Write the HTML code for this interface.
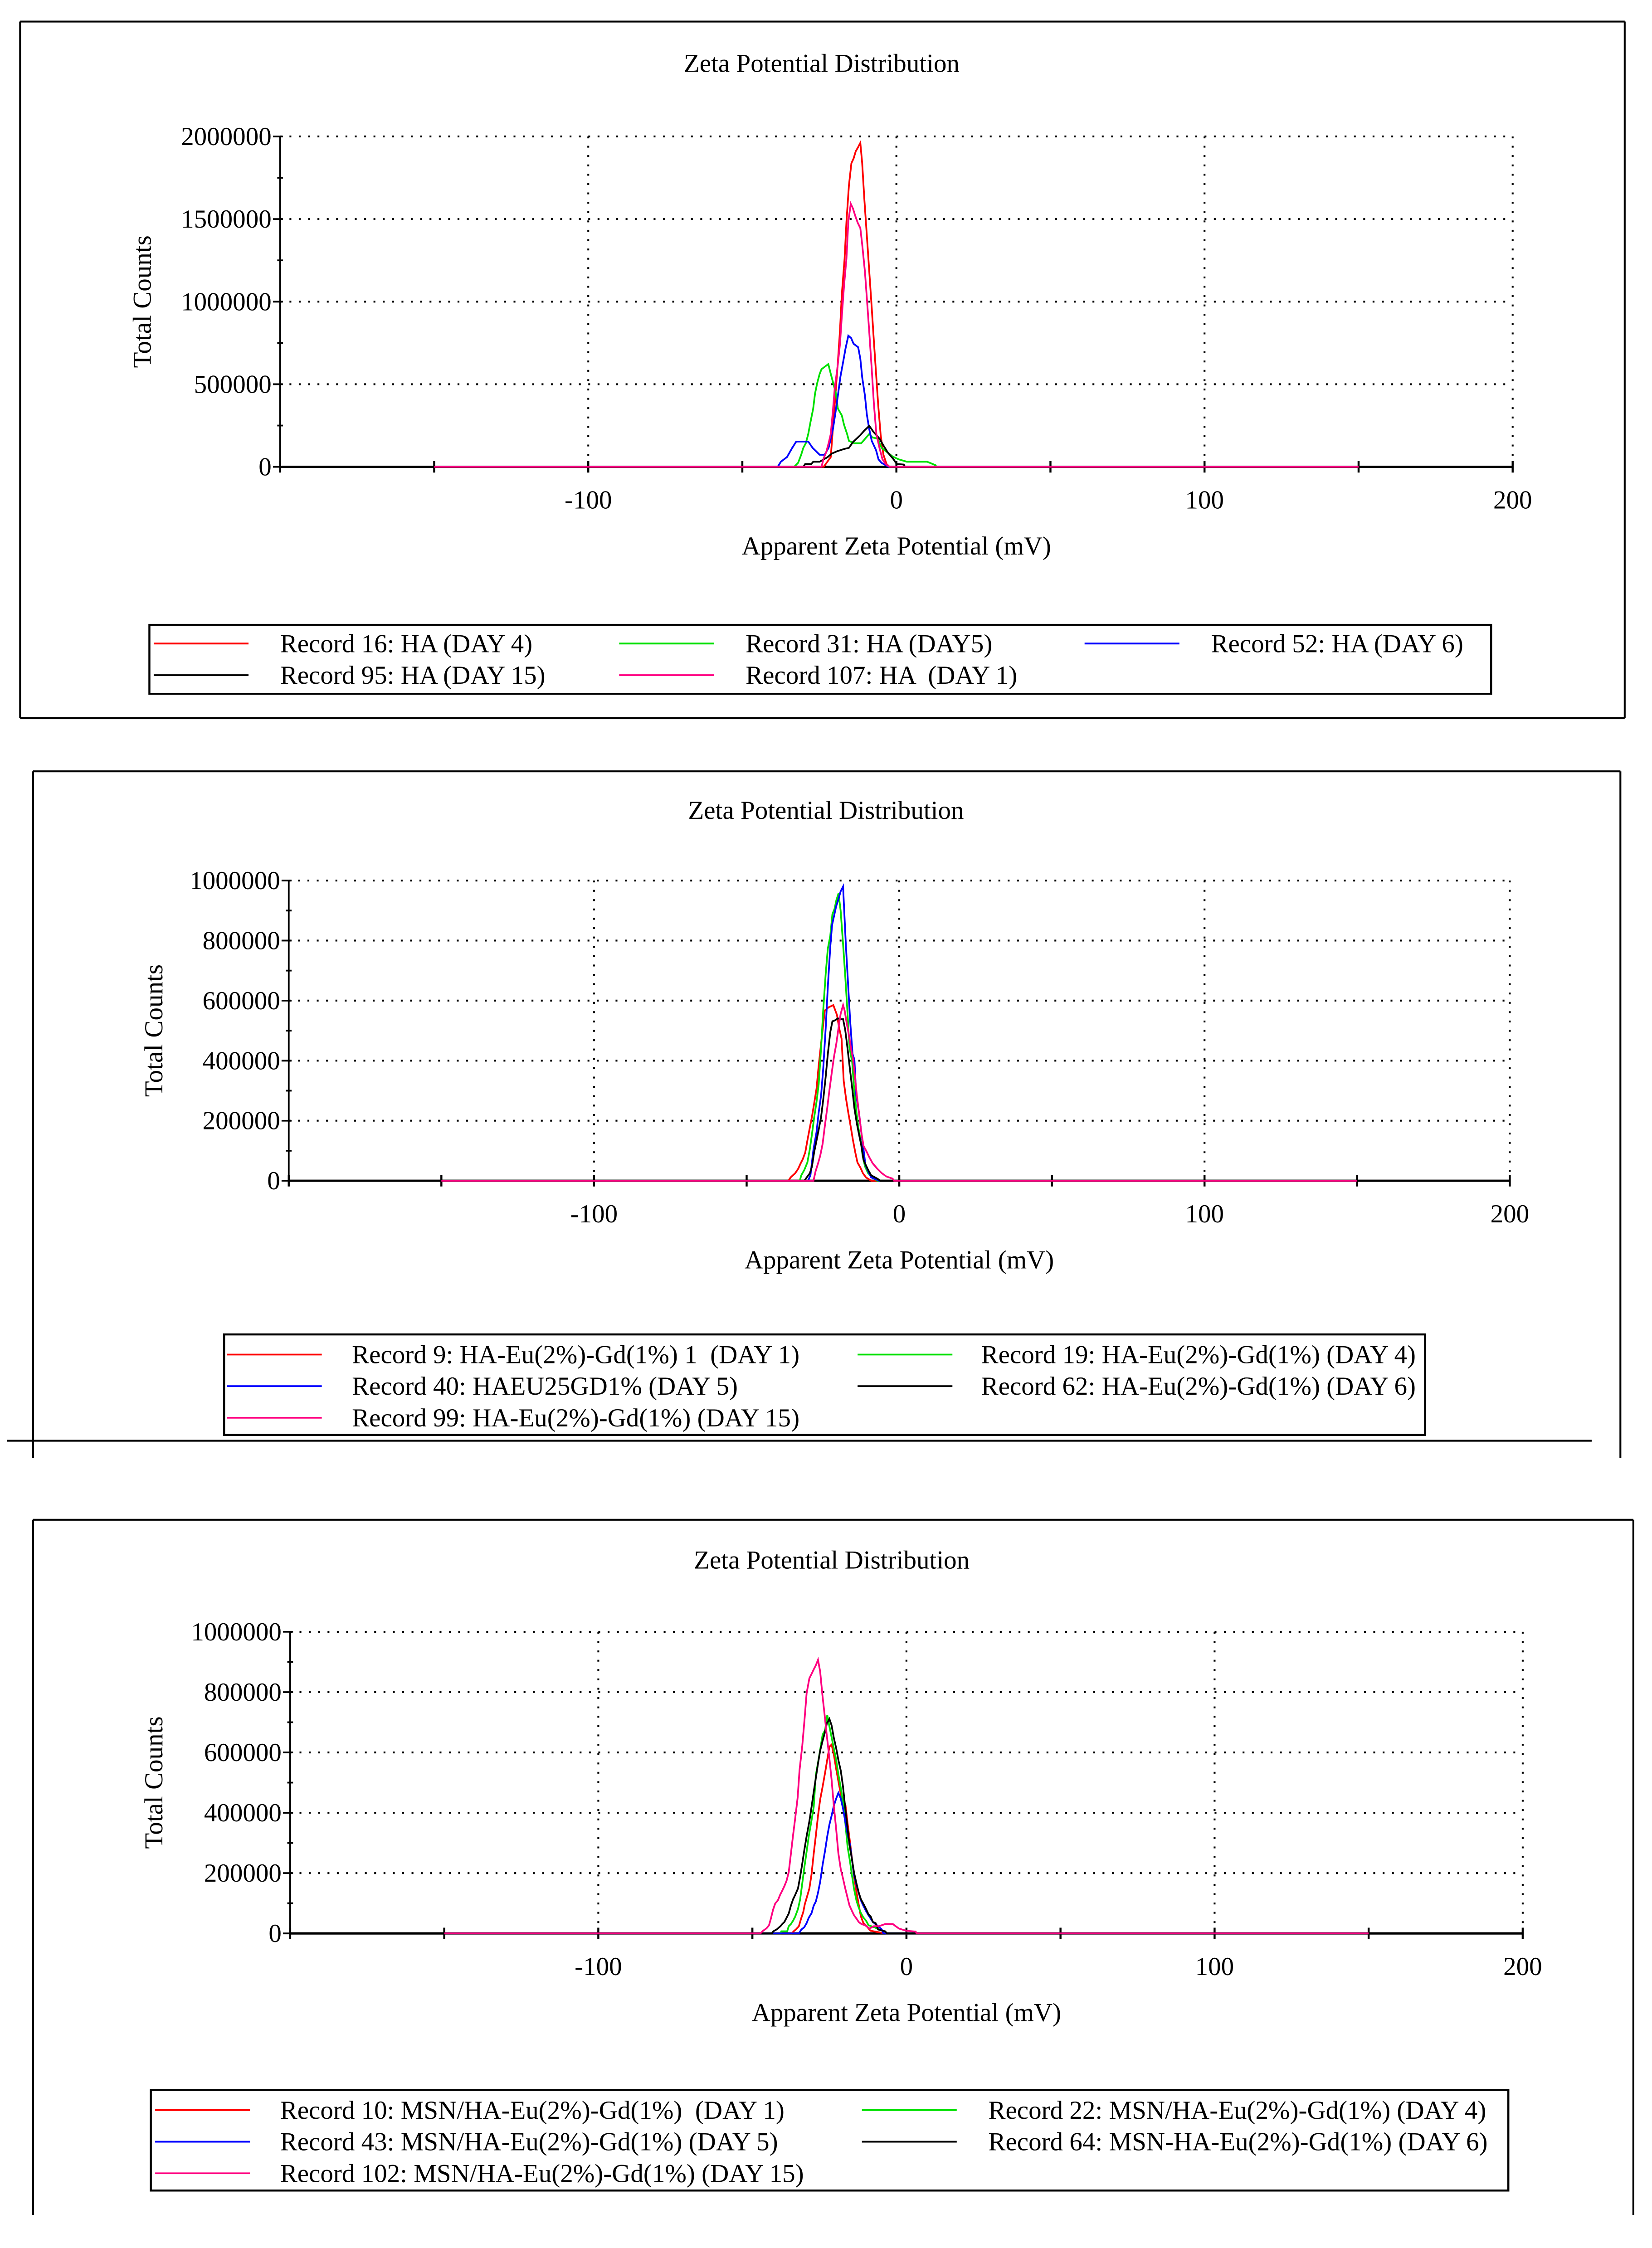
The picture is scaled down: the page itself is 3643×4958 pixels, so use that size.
<!DOCTYPE html>
<html><head><meta charset="utf-8"><title>Zeta Potential Distribution</title>
<style>html,body{margin:0;padding:0;background:#fff;}svg{display:block;}text{font-family:"Liberation Serif",serif;fill:#000;white-space:pre;}</style>
</head><body>
<svg id="fig" xmlns="http://www.w3.org/2000/svg" width="3643" height="4958" viewBox="0 0 1150 1565" preserveAspectRatio="none"></svg>
<script>
// ---------- Panel 1 data (mV, counts in thousands) ----------
const p1RedX=[-23.6,-21.3,-19.0,-18.3,-17.7,-16.8,-16.2,-15.4,-14.6,-13.9,-13.2,-12.4,-11.7,-11.1,-10.4,-9.6,-8.8,-8.0,-7.3,-6.6,-5.9,-5.1,-4.2,-3.2,-2.2];
const p1RedY=[0,59,633,829,1046,1263,1485,1705,1838,1866,1910,1936,1961,1838,1620,1403,1182,962,759,566,374,192,73,17,0];
const p1GreenX=[-33.2,-31.9,-30.9,-30.2,-29.4,-28.6,-27.9,-27.0,-26.4,-25.7,-24.9,-24.3,-22.1,-21.3,-20.4,-19.7,-19.0,-17.7,-17.0,-16.0,-15.4,-13.7,-11.4,-10.1,-8.8,-7.8,-6.1,-4.8,-1.2,0.8,3.4,10.0,12.7,13.0];
const p1GreenY=[0,24,73,115,143,199,269,353,444,507,563,591,622,563,500,451,353,311,255,199,157,143,143,171,199,178,171,115,62,45,31,31,10,0];
const p1BlueX=[-38.5,-37.5,-35.5,-33.8,-32.5,-28.6,-27.2,-24.9,-23.3,-22.0,-20.6,-19.8,-19.0,-18.2,-17.3,-16.5,-15.6,-14.7,-13.9,-12.4,-11.7,-11.1,-10.2,-9.6,-8.8,-8.0,-6.6,-5.8,-4.8,-3.5,-2.5];
const p1BlueY=[0,31,59,115,153,153,115,73,73,115,227,325,430,542,633,717,794,780,745,724,654,542,430,318,227,157,101,45,24,10,0];
const p1BlackX=[-30.2,-29.6,-27.6,-27.0,-24.9,-23.6,-22.3,-21.0,-19.3,-17.0,-15.4,-14.1,-11.7,-10.4,-8.8,-7.5,-5.5,-4.2,-2.8,-0.9,0.1,2.4,2.8];
const p1BlackY=[0,17,17,31,31,45,59,80,94,108,115,150,192,220,248,213,171,129,87,45,17,14,0];
const p1MagX=[-24.3,-23.6,-22.8,-22.0,-21.3,-20.6,-20.0,-19.1,-18.3,-17.7,-17.0,-16.2,-15.6,-14.8,-14.1,-13.4,-12.6,-11.7,-11.1,-10.2,-9.6,-8.8,-8.0,-7.3,-6.5,-5.5,-4.5,-3.5,-2.2];
const p1MagY=[0,52,87,143,199,339,479,605,745,913,1095,1263,1487,1592,1564,1522,1480,1445,1347,1179,1025,815,591,381,199,115,45,17,0];
// ---------- Panel 2 data ----------
const p2RedX=[-36.3,-35.6,-34.1,-33.1,-32.3,-31.6,-30.8,-30.1,-29.3,-28.6,-27.9,-27.1,-26.4,-25.6,-24.4,-23.1,-21.6,-20.4,-19.7,-18.9,-18.2,-17.4,-16.7,-15.9,-15.2,-14.4,-13.7,-12.7,-11.9,-10.9,-9.2];
const p2RedY=[0,11,25,40,58,72,94,134,177,213,256,307,383,458,567,578,585,552,509,473,332,271,227,180,137,94,61,43,25,11,0];
const p2GreenX=[-32.6,-32.1,-31.1,-30.1,-29.3,-28.6,-27.9,-27.1,-26.4,-25.6,-24.9,-24.1,-23.4,-22.6,-21.9,-21.2,-20.6,-19.9,-19.2,-18.4,-17.7,-17.0,-16.3,-15.4,-14.8,-14.1,-13.4,-12.7,-12.0,-11.2,-10.2,-8.2,-7.2];
const p2GreenY=[0,18,36,61,105,155,209,263,321,444,570,690,773,816,888,906,935,957,899,787,682,567,444,394,307,235,177,137,83,47,25,7,0];
const p2BlueX=[-29.9,-29.1,-28.1,-27.1,-26.4,-25.6,-24.9,-24.1,-23.4,-22.6,-22.0,-21.3,-20.7,-19.9,-19.2,-18.4,-18.1,-17.5,-16.8,-16.1,-15.3,-14.7,-14.1,-13.2,-12.4,-11.8,-11.1,-10.2,-9.2,-6.5];
const p2BlueY=[0,18,105,162,227,285,375,509,646,780,852,885,913,939,964,980,913,787,661,534,422,404,285,227,159,112,54,32,11,0];
const p2BlackX=[-31.1,-30.1,-29.3,-28.6,-27.9,-27.1,-26.4,-25.6,-24.9,-24.1,-23.4,-22.6,-21.9,-21.1,-20.1,-19.2,-18.4,-17.7,-16.9,-16.2,-15.4,-14.7,-13.9,-13.2,-12.4,-11.7,-10.9,-10.2,-9.2,-7.2,-6.2];
const p2BlackY=[0,14,25,47,94,134,170,213,271,347,422,495,531,534,541,538,538,502,437,375,307,242,191,155,116,69,51,36,18,7,0];
const p2MagX=[-28.1,-27.4,-26.6,-25.9,-25.1,-24.4,-23.6,-22.9,-22.1,-21.4,-20.6,-19.9,-19.2,-18.4,-17.9,-17.2,-16.4,-15.8,-15.2,-14.6,-13.9,-13.2,-12.4,-11.7,-10.7,-9.7,-8.7,-7.2,-5.7,-4.2,-2.2,-1.7];
const p2MagY=[0,32,58,83,123,181,242,300,361,412,458,509,556,585,567,524,480,440,408,354,285,227,159,116,97,76,58,40,25,14,7,0];
// ---------- Panel 3 data ----------
const p3RedX=[-37.2,-36.6,-35.8,-34.9,-34.2,-33.5,-33.0,-32.3,-31.5,-30.8,-30.1,-29.4,-28.7,-28.0,-27.2,-26.4,-25.7,-25.0,-24.3,-23.6,-22.8,-21.9,-21.1,-19.8,-19.1,-18.2,-17.0,-16.3,-15.5,-14.8,-14.0,-12.9,-11.7,-6.9];
const p3RedY=[0,7,14,24,49,70,96,121,149,196,264,325,390,444,487,533,576,619,626,595,545,494,451,426,365,293,189,142,96,57,35,24,9,0];
const p3GreenX=[-40.9,-40.6,-38.7,-38.2,-37.5,-36.8,-36.1,-35.2,-34.5,-33.8,-33.1,-32.4,-31.7,-30.9,-30.1,-29.4,-28.7,-28.0,-27.2,-26.4,-25.7,-24.9,-24.2,-23.5,-22.8,-22.1,-21.3,-20.6,-19.8,-19.1,-18.3,-17.7,-17.0,-16.2,-15.5,-14.8,-14.0,-13.1,-12.3,-10.3,-8.9,-6.9,-6.6];
const p3GreenY=[0,7,7,24,31,42,56,81,113,167,221,271,322,369,419,526,566,609,659,674,724,681,646,610,575,528,481,438,362,287,237,194,147,108,86,68,53,42,27,20,13,6,0];
const p3BlueX=[-43.7,-34.9,-34.1,-33.2,-32.4,-31.7,-30.8,-30.1,-29.4,-28.7,-28.0,-27.2,-26.4,-25.7,-25.0,-24.3,-23.6,-22.8,-22.1,-21.3,-20.6,-19.8,-19.1,-18.3,-17.7,-17.0,-16.2,-15.5,-14.8,-14.0,-13.1,-12.3,-10.9,-9.2,-8.0,-7.5];
const p3BlueY=[0,0,13,20,34,52,67,92,106,135,171,228,275,322,361,390,422,447,466,447,415,368,329,293,247,193,160,135,110,92,74,60,38,24,13,0];
const p3BlackX=[-43.7,-43.2,-42.0,-40.9,-40.3,-39.6,-38.9,-38.2,-37.5,-36.8,-36.1,-35.2,-34.5,-33.8,-33.1,-32.4,-31.5,-30.8,-30.1,-29.4,-28.7,-28.0,-27.3,-26.6,-25.8,-25.0,-24.3,-23.6,-22.8,-22.1,-21.3,-20.6,-19.9,-19.3,-18.5,-17.7,-17.0,-16.2,-15.5,-14.8,-14.0,-13.1,-12.3,-11.6,-10.9,-10.0,-9.2,-6.9,-6.3];
const p3BlackY=[0,7,14,24,31,38,52,66,92,113,128,149,188,232,279,322,372,419,469,516,563,606,635,661,697,711,690,650,614,575,539,488,420,366,294,247,201,165,136,114,99,81,63,56,38,34,13,7,0];
const p3MagX=[-47.4,-46.5,-45.4,-44.6,-44.0,-43.3,-42.6,-41.7,-41.0,-40.3,-39.6,-38.9,-38.2,-37.5,-36.8,-36.1,-35.3,-34.7,-33.8,-33.1,-32.4,-31.5,-30.8,-30.1,-29.4,-28.7,-28.0,-27.3,-26.6,-25.9,-25.1,-24.3,-23.6,-22.8,-22.1,-21.3,-20.6,-19.9,-19.3,-18.5,-17.7,-17.0,-16.2,-15.5,-14.6,-13.4,-12.0,-10.6,-8.9,-6.9,-4.4,-3.5,-2.4,-0.1,3.0,3.3];
const p3MagY=[0,9,17,27,49,78,99,110,128,142,157,175,203,264,325,382,451,541,623,706,796,846,860,875,889,907,868,793,729,661,589,510,427,345,266,212,183,151,126,93,75,60,49,38,31,27,16,24,24,31,31,24,16,9,6,0];
// ---------- Axis ticks ----------
const xTickLabels=[-100,0,100,200];
const p1YTicks=[0,500000,1000000,1500000,2000000];
const p23YTicks=[0,200000,400000,600000,800000,1000000];
// ---------- Legend labels ----------
const p1Legend=["Record 16: HA (DAY 4)","Record 31: HA (DAY5)","Record 52: HA (DAY 6)","Record 95: HA (DAY 15)","Record 107: HA  (DAY 1)"];
const p2Legend=["Record 9: HA-Eu(2%)-Gd(1%) 1  (DAY 1)","Record 19: HA-Eu(2%)-Gd(1%) (DAY 4)","Record 40: HAEU25GD1% (DAY 5)","Record 62: HA-Eu(2%)-Gd(1%) (DAY 6)","Record 99: HA-Eu(2%)-Gd(1%) (DAY 15)"];
const p3Legend=["Record 10: MSN/HA-Eu(2%)-Gd(1%)  (DAY 1)","Record 22: MSN/HA-Eu(2%)-Gd(1%) (DAY 4)","Record 43: MSN/HA-Eu(2%)-Gd(1%) (DAY 5)","Record 64: MSN-HA-Eu(2%)-Gd(1%) (DAY 6)","Record 102: MSN/HA-Eu(2%)-Gd(1%) (DAY 15)"];

const NS="http://www.w3.org/2000/svg";
const svg=document.getElementById('fig');
function mk(tag,attrs,parent){const e=document.createElementNS(NS,tag);for(const k in attrs)e.setAttribute(k,attrs[k]);(parent||svg).appendChild(e);return e;}
function txt(s,x,y,size,anchor,parent){const t=mk('text',{x:x,y:y,'font-size':size,'text-anchor':anchor||'start'},parent);t.textContent=s;return t;}

function panel(cfg){
  const g=mk('g',{});
  
  
  const L=cfg.L,R=cfg.R,T=cfg.T,B=cfg.B;
  const xs=v=>L+(v+200)/400*(R-L);
  const ys=v=>B-v/cfg.ymax*(B-T);
  cfg.frame.forEach(f=>{const l=mk('line',{x1:f[0],y1:f[1],x2:f[2],y2:f[3],stroke:'#000','stroke-width':1.3},g);
    
    });
  const title=txt('Zeta Potential Distribution',cfg.tx,cfg.ty,18,'middle',g);
  
  
  cfg.yticks.forEach(v=>{if(v===0)return;const l=mk('line',{x1:L,y1:ys(v),x2:R,y2:ys(v),stroke:'#000','stroke-width':1.3,'stroke-dasharray':'1.3 5.2'},g);
    
    });
  xTickLabels.forEach(v=>{const l=mk('line',{x1:xs(v),y1:T,x2:xs(v),y2:B,stroke:'#000','stroke-width':1.3,'stroke-dasharray':'1.3 5.2'},g);
    
    });
  const ya=mk('line',{x1:L,y1:T,x2:L,y2:B,stroke:'#000','stroke-width':1.2},g);
  
  
  const xa=mk('line',{x1:L,y1:B,x2:R,y2:B,stroke:'#000','stroke-width':1.6},g);
  
  
  const step=cfg.yticks[1]-cfg.yticks[0];
  for(let v=0;v<=cfg.ymax+1;v+=step/2){const major=(v%step)===0;mk('line',{x1:L-(major?5:2),y1:ys(v),x2:L+2,y2:ys(v),stroke:'#000','stroke-width':1.2},g);}
  cfg.yticks.forEach(v=>{const t=txt(String(v),L-6,ys(v)+6,18,'end',g);
    
    });
  for(let v=-200;v<=200;v+=50){mk('line',{x1:xs(v),y1:B-4,x2:xs(v),y2:B+4,stroke:'#000','stroke-width':1.4},g);}
  xTickLabels.forEach(v=>{const t=txt(String(v),xs(v),B+29,18,'middle',g);
    
    });
  const xt=txt('Apparent Zeta Potential (mV)',xs(0),B+61,18,'middle',g);
  
  
  const yt=txt('Total Counts',0,0,18,'middle',g);
  yt.setAttribute('transform','translate('+cfg.ytx+','+((T+B)/2)+') rotate(-90)');
  
  
  cfg.series.forEach(s=>{
    const pts=[[-150,0]];
    for(let i=0;i<s.x.length;i++)pts.push([s.x[i],s.y[i]*1000]);
    pts.push([150,0]);
    const d=pts.map((p,i)=>(i?'L':'M')+xs(p[0]).toFixed(2)+' '+ys(p[1]).toFixed(2)).join(' ');
    const p=mk('path',{d:d,fill:'none',stroke:s.c,'stroke-width':1.2,'stroke-linejoin':'miter'},g);
    
    
  });
  const lb=cfg.leg;
  const box=mk('rect',{x:lb.x,y:lb.y,width:lb.w,height:lb.h,fill:'none',stroke:'#000','stroke-width':1.4},g);
  
  
  lb.items.forEach((it,i)=>{
    const l=mk('line',{x1:it[0],y1:it[1],x2:it[0]+66,y2:it[1],stroke:cfg.series[it[3]].c,'stroke-width':1.2},g);
    
    
    const t=txt(cfg.labels[i],it[2],it[1]+6,18,'start',g);
    
    
  });
}

panel({name:'panel-ha',L:195,R:1053,T:95,B:325,ymax:2000000,yticks:p1YTicks,tx:572,ty:50,ytx:105,
  frame:[[14,15,1131,15],[14,500,1131,500],[14,15,14,500],[1131,15,1131,500]],
  series:[{x:p1RedX,y:p1RedY,c:'#ff0000',n:'series-record-16'},{x:p1GreenX,y:p1GreenY,c:'#00e000',n:'series-record-31'},{x:p1BlueX,y:p1BlueY,c:'#0000ff',n:'series-record-52'},{x:p1BlackX,y:p1BlackY,c:'#000000',n:'series-record-95'},{x:p1MagX,y:p1MagY,c:'#ff0080',n:'series-record-107'}],
  labels:p1Legend,
  leg:{x:104,y:435,w:934,h:48,items:[[107,448,195,0],[431,448,519,1],[755,448,843,2],[107,470,195,3],[431,470,519,4]]}});

panel({name:'panel-ha-eu-gd',L:201,R:1051,T:613,B:822,ymax:1000000,yticks:p23YTicks,tx:575,ty:570,ytx:113,
  frame:[[23,537,1128,537],[23,537,23,1015],[1128,537,1128,1015],[5,1003,1108,1003]],
  series:[{x:p2RedX,y:p2RedY,c:'#ff0000',n:'series-record-9'},{x:p2GreenX,y:p2GreenY,c:'#00e000',n:'series-record-19'},{x:p2BlueX,y:p2BlueY,c:'#0000ff',n:'series-record-40'},{x:p2BlackX,y:p2BlackY,c:'#000000',n:'series-record-62'},{x:p2MagX,y:p2MagY,c:'#ff0080',n:'series-record-99'}],
  labels:p2Legend,
  leg:{x:156,y:929,w:836,h:70,items:[[158,943,245,0],[597,943,683,1],[158,965,245,2],[597,965,683,3],[158,987,245,4]]}});

panel({name:'panel-msn-ha-eu-gd',L:202,R:1060,T:1136,B:1346,ymax:1000000,yticks:p23YTicks,tx:579,ty:1092,ytx:113,
  frame:[[23,1058,1137,1058],[23,1058,23,1542],[1137,1058,1137,1542]],
  series:[{x:p3RedX,y:p3RedY,c:'#ff0000',n:'series-record-10'},{x:p3GreenX,y:p3GreenY,c:'#00e000',n:'series-record-22'},{x:p3BlueX,y:p3BlueY,c:'#0000ff',n:'series-record-43'},{x:p3BlackX,y:p3BlackY,c:'#000000',n:'series-record-64'},{x:p3MagX,y:p3MagY,c:'#ff0080',n:'series-record-102'}],
  labels:p3Legend,
  leg:{x:105,y:1455,w:945,h:70,items:[[108,1469,195,0],[600,1469,688,1],[108,1491,195,2],[600,1491,688,3],[108,1513,195,4]]}});
</script>
</body></html>
